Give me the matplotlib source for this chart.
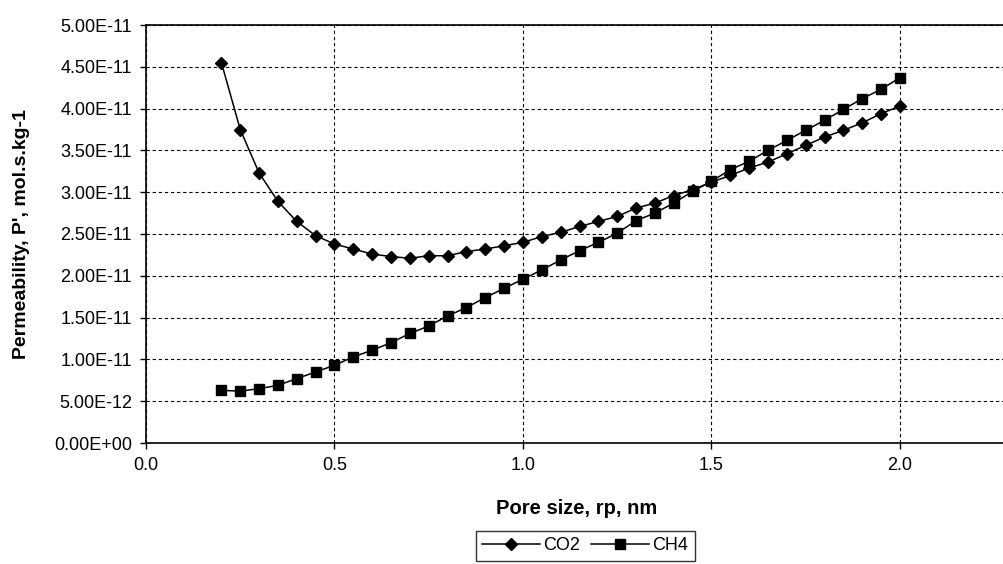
import matplotlib
matplotlib.use("Agg")
import matplotlib.pyplot as plt
from matplotlib.ticker import FuncFormatter, MultipleLocator

plt.rcParams["font.family"] = ["Liberation Sans", "DejaVu Sans"]

# pore size, nm
poreSize = [0.20, 0.25, 0.30, 0.35, 0.40, 0.45, 0.50, 0.55, 0.60, 0.65,
            0.70, 0.75, 0.80, 0.85, 0.90, 0.95, 1.00, 1.05, 1.10, 1.15,
            1.20, 1.25, 1.30, 1.35, 1.40, 1.45, 1.50, 1.55, 1.60, 1.65,
            1.70, 1.75, 1.80, 1.85, 1.90, 1.95, 2.00]

# permeability, units of 1e-11
co2 = [4.55, 3.75, 3.23, 2.89, 2.65, 2.48, 2.38, 2.32, 2.26, 2.23,
       2.21, 2.24, 2.24, 2.29, 2.32, 2.36, 2.40, 2.47, 2.52, 2.59,
       2.65, 2.71, 2.81, 2.87, 2.96, 3.03, 3.12, 3.20, 3.29, 3.36,
       3.46, 3.56, 3.66, 3.74, 3.83, 3.94, 4.03]
ch4 = [0.63, 0.62, 0.65, 0.69, 0.77, 0.85, 0.93, 1.03, 1.11, 1.20,
       1.31, 1.40, 1.52, 1.62, 1.74, 1.85, 1.96, 2.07, 2.19, 2.30,
       2.40, 2.51, 2.66, 2.75, 2.87, 3.01, 3.13, 3.27, 3.37, 3.50,
       3.62, 3.74, 3.86, 3.99, 4.12, 4.23, 4.37]

co2 = [v * 1e-11 for v in co2]
ch4 = [v * 1e-11 for v in ch4]

fig = plt.figure(figsize=(10.04, 5.64), dpi=100)
ax = fig.add_axes([146 / 1004, 1 - 443 / 564, 1 - 146 / 1004, (443 - 25) / 564])

ax.plot(poreSize, co2, color="black", linewidth=1.1, marker="D",
        markersize=6.5, label="CO2")
ax.plot(poreSize, ch4, color="black", linewidth=1.1, marker="s",
        markersize=7.5, label="CH4")

ax.set_xlim(0, 2.276)
ax.set_ylim(0, 5e-11)
ax.yaxis.set_major_locator(MultipleLocator(0.5e-11))
ax.xaxis.set_major_formatter(FuncFormatter(lambda v, p: "%.1f" % v))
ax.yaxis.set_major_formatter(FuncFormatter(lambda v, p: "%.2E" % v))
ax.set_xticks([0.0, 0.5, 1.0, 1.5, 2.0])
ax.yaxis.get_offset_text().set_visible(False)
ax.xaxis.get_offset_text().set_visible(False)

ax.grid(True, color="black", linestyle=(0, (3, 2.5)), linewidth=0.8)
ax.spines["right"].set_visible(False)
for s in ["left", "top", "bottom"]:
    ax.spines[s].set_linewidth(1.2)
ax.tick_params(direction="out", length=4, width=1, labelsize=13, pad=6)

ax.set_xlabel("Pore size, rp, nm", fontsize=14.5, fontweight="bold")
ax.xaxis.set_label_coords((577 - 146) / 858, -(508 - 443) / 418)
ax.xaxis.label.set_va("center")
ax.set_ylabel("Permeability, P', mol.s.kg-1", fontsize=14, fontweight="bold")
ax.yaxis.set_label_coords(-(146 - 21) / 858, (443 - 234) / 418)
ax.yaxis.label.set_va("center")

leg = fig.legend(loc="upper center", bbox_to_anchor=(585 / 1004, 1 - 531 / 564),
                 ncol=2, fontsize=13, frameon=True, fancybox=False,
                 handlelength=3.2, columnspacing=0.6, handletextpad=0.2,
                 borderpad=0.35, borderaxespad=0)
leg.get_frame().set_edgecolor("black")
leg.get_frame().set_linewidth(1.0)

fig.savefig("out.png", dpi=100)
